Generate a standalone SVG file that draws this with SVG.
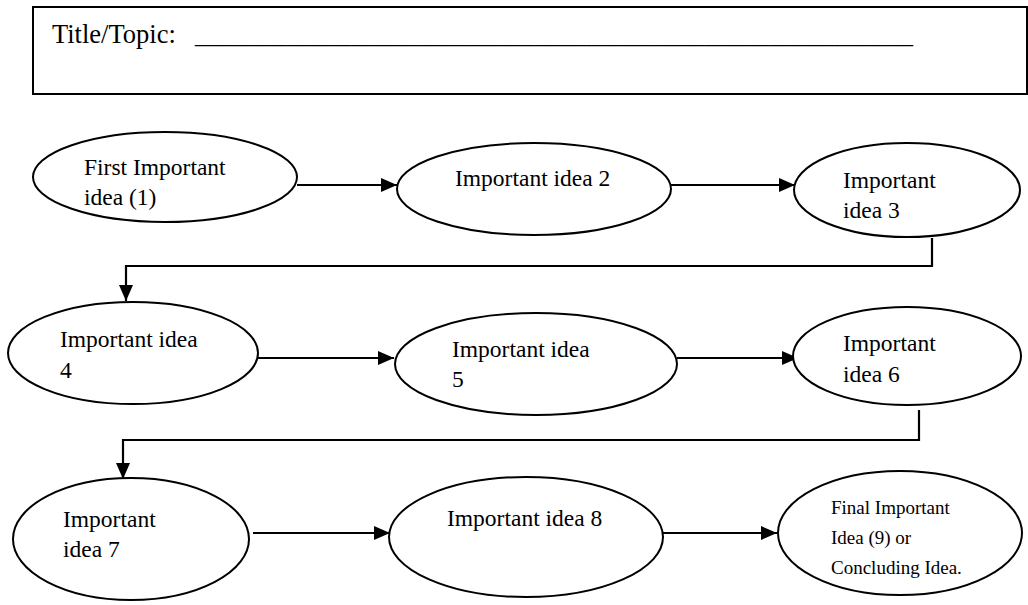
<svg xmlns="http://www.w3.org/2000/svg" width="1028" height="605" viewBox="0 0 1028 605">
  <style>
    .node ellipse { fill: #fff; stroke: #000; stroke-width: 2; }
    .ttl { font-family: "Liberation Serif", "DejaVu Serif", serif; font-size: 26.5px; fill: #000; }
    .lbl { font-family: "Liberation Serif", "DejaVu Serif", serif; font-size: 23.5px; fill: #000; }
    .sm { font-family: "Liberation Serif", "DejaVu Serif", serif; font-size: 19px; fill: #000; }
    .conn { fill: none; stroke: #000; stroke-width: 2.2; }
  </style>
  <defs>
    <marker id="ah" markerUnits="userSpaceOnUse" markerWidth="17" markerHeight="15" refX="16" refY="7" orient="auto">
      <path d="M0,0 L16,7 L0,14 z" fill="#000"/>
    </marker>
  </defs>
  <rect width="1028" height="605" fill="#fff"/>

  <g id="title">
    <rect x="33" y="7" width="994" height="87" fill="#fff" stroke="#000" stroke-width="2"/>
    <text class="ttl" x="52" y="43">Title/Topic:<tspan x="195" textLength="718" lengthAdjust="spacingAndGlyphs">_______________________________________________________</tspan></text>
  </g>

  <g id="connectors">
    <line class="conn" x1="297" y1="185" x2="397" y2="185" marker-end="url(#ah)"/>
    <line class="conn" x1="671" y1="185" x2="795" y2="185" marker-end="url(#ah)"/>
    <polyline class="conn" points="932,238 932,266 126,266 126,301" marker-end="url(#ah)"/>
    <line class="conn" x1="258" y1="358" x2="394" y2="358" marker-end="url(#ah)"/>
    <line class="conn" x1="677" y1="358" x2="798" y2="358" marker-end="url(#ah)"/>
    <polyline class="conn" points="919,410 919,440 123,440 123,479" marker-end="url(#ah)"/>
    <line class="conn" x1="253" y1="533" x2="390" y2="533" marker-end="url(#ah)"/>
    <line class="conn" x1="663" y1="533" x2="777" y2="533" marker-end="url(#ah)"/>
  </g>

  <g id="n1" class="node">
    <ellipse cx="165" cy="177" rx="132" ry="45"/>
    <text class="lbl" x="84" y="175">First Important</text>
    <text class="lbl" x="84" y="205">idea (1)</text>
  </g>
  <g id="n2" class="node">
    <ellipse cx="534" cy="189" rx="137" ry="46"/>
    <text class="lbl" x="455" y="186">Important idea 2</text>
  </g>
  <g id="n3" class="node">
    <ellipse cx="907" cy="190" rx="113" ry="47"/>
    <text class="lbl" x="843" y="188">Important</text>
    <text class="lbl" x="843" y="218">idea 3</text>
  </g>
  <g id="n4" class="node">
    <ellipse cx="133" cy="353" rx="125" ry="51"/>
    <text class="lbl" x="60" y="347">Important idea</text>
    <text class="lbl" x="60" y="378">4</text>
  </g>
  <g id="n5" class="node">
    <ellipse cx="536" cy="364" rx="141" ry="51"/>
    <text class="lbl" x="452" y="357">Important idea</text>
    <text class="lbl" x="452" y="387">5</text>
  </g>
  <g id="n6" class="node">
    <ellipse cx="907" cy="356" rx="114" ry="49"/>
    <text class="lbl" x="843" y="351">Important</text>
    <text class="lbl" x="843" y="382">idea 6</text>
  </g>
  <g id="n7" class="node">
    <ellipse cx="131" cy="539" rx="118" ry="61"/>
    <text class="lbl" x="63" y="527">Important</text>
    <text class="lbl" x="63" y="557">idea 7</text>
  </g>
  <g id="n8" class="node">
    <ellipse cx="526" cy="537" rx="137" ry="60"/>
    <text class="lbl" x="447" y="526">Important idea 8</text>
  </g>
  <g id="n9" class="node">
    <ellipse cx="900" cy="533" rx="122" ry="62"/>
    <text class="sm" x="831" y="514">Final Important</text>
    <text class="sm" x="831" y="544">Idea (9) or</text>
    <text class="sm" x="831" y="574">Concluding Idea.</text>
  </g>
</svg>
